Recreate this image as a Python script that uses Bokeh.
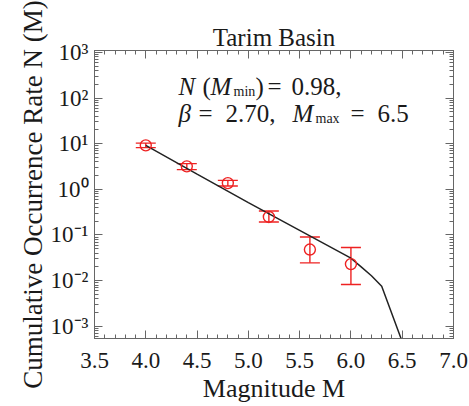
from bokeh.plotting import figure
from bokeh.models import (ColumnDataSource, Whisker, TeeHead, FixedTicker,
                          LogAxis, LinearAxis, Label)
from bokeh.embed import file_html
from bokeh.resources import INLINE

# ---- data ----
magnitude = [4.0, 4.4, 4.8, 5.2, 5.6, 6.0]
rate = [9.2, 3.19, 1.37, 0.248, 0.048, 0.023]
rate_upper = [10.3, 3.66, 1.57, 0.335, 0.090, 0.053]
rate_lower = [8.2, 2.70, 1.18, 0.192, 0.0245, 0.0082]

fit_magnitude = [4.0, 4.5, 5.0, 5.5, 6.0, 6.1, 6.2, 6.3, 6.5]
fit_rate = [9.2, 2.16, 0.51, 0.126, 0.031, 0.020, 0.0128, 0.0075, 0.00046]

x_ticks = [3.5, 4.0, 4.5, 5.0, 5.5, 6.0, 6.5, 7.0]
x_tick_labels = ["3.5", "4.0", "4.5", "5.0", "5.5", "6.0", "6.5", "7.0"]
y_ticks = [1e-3, 1e-2, 1e-1, 1e0, 1e1, 1e2, 1e3]
y_tick_labels = ["10\u207b\u00b3", "10\u207b\u00b2", "10\u207b\u00b9", "10\u2070",
                 "10\u00b9", "10\u00b2", "10\u00b3"]

title_text = "Tarim Basin"
x_label = "Magnitude M"
y_label = "Cumulative Occurrence Rate N (M)"

RED = "#ee2222"
AX = "#666666"
TXT = "#1a1a1a"
FONT = "Liberation Serif"

W, H = 469, 406
FL, FR, FT, FB = 94, 453, 50, 338

p = figure(width=W, height=H, x_range=(3.5, 7.0), y_range=(5.4e-4, 1.1e3),
           y_axis_type="log", toolbar_location=None, output_backend="svg",
           min_border_left=FL, min_border_right=W - FR,
           min_border_top=FT, min_border_bottom=H - FB)
p.xgrid.visible = False
p.ygrid.visible = False
p.outline_line_color = AX
p.background_fill_color = "white"
p.border_fill_color = "white"

p.title.text = title_text
p.title.align = "center"
p.title.text_font = FONT
p.title.text_font_size = "25px"
p.title.text_font_style = "normal"
p.title.text_color = TXT
p.title.standoff = 0

x_minor = [round(3.5 + 0.1 * i, 2) for i in range(36)]
y_minor = []
for d in range(-4, 3):
    for m in range(2, 10):
        v = m * 10.0 ** d
        if 5.4e-4 <= v <= 1.1e3:
            y_minor.append(v)

xt = FixedTicker(ticks=x_ticks, minor_ticks=x_minor)
yt = FixedTicker(ticks=y_ticks, minor_ticks=y_minor)


def style(ax, labels=True):
    ax.axis_line_color = AX
    ax.major_tick_line_color = AX
    ax.minor_tick_line_color = AX
    ax.major_tick_in = 8
    ax.major_tick_out = 0
    ax.minor_tick_in = 4
    ax.minor_tick_out = 0
    if labels:
        ax.major_label_text_font = FONT
        ax.major_label_text_font_size = "23px"
        ax.major_label_text_color = TXT
        ax.axis_label_text_font = FONT
        ax.axis_label_text_font_style = "normal"
        ax.axis_label_text_color = TXT
    else:
        ax.major_label_text_font_size = "1px"
        ax.major_label_text_color = None
        ax.major_label_standoff = 0


xa = p.xaxis[0]
xa.ticker = xt
style(xa)
xa.major_label_standoff = 14
xa.major_label_overrides = {t: s for t, s in zip(x_ticks, x_tick_labels)}
xa.axis_label = x_label
xa.axis_label_text_font_size = "26px"
xa.axis_label_standoff = 3

ya = p.yaxis[0]
ya.ticker = yt
style(ya)
ya.major_label_standoff = 6
ya.major_label_overrides = {t: s for t, s in zip(y_ticks, y_tick_labels)}
ya.axis_label = y_label
ya.axis_label_text_font_size = "27px"
ya.axis_label_standoff = 0

top = LinearAxis(ticker=xt)
style(top, labels=False)
p.add_layout(top, "above")
right = LogAxis(ticker=yt)
style(right, labels=False)
p.add_layout(right, "right")

# ---- data glyphs ----
src = ColumnDataSource(dict(m=magnitude, rate=rate, upper=rate_upper, lower=rate_lower))
p.line(fit_magnitude, fit_rate, line_color="#222222", line_width=1.5)
p.add_layout(Whisker(source=src, base="m", upper="upper", lower="lower",
                     line_color=RED, line_width=1.4,
                     upper_head=TeeHead(size=20, line_color=RED, line_width=1.4),
                     lower_head=TeeHead(size=20, line_color=RED, line_width=1.4)))
p.scatter("m", "rate", source=src, marker="circle", size=11, fill_color=None,
          line_color=RED, line_width=1.4)


# ---- annotation inside the frame (canvas pixel positions, top-down) ----
def lab(text, x, y, size, italic=False):
    p.add_layout(Label(x=x - FL, y=FB - y, x_units="screen", y_units="screen",
                       text=text, text_font=FONT, text_font_size=f"{size}px",
                       text_font_style="italic" if italic else "normal",
                       text_color=TXT, text_align="left", text_baseline="alphabetic"))


lab("N", 178, 86, 25, italic=True)
lab("(", 202, 86, 25)
lab("M", 210, 86, 25, italic=True)
lab("min", 233, 91, 14)
lab(")", 255, 86, 25)
lab("=", 267, 86, 25)
lab("0.98,", 291, 86, 25)
lab("\u03b2", 178, 113, 25, italic=True)
lab("=", 198, 113, 25)
lab("2.70,", 225, 113, 25)
lab("M", 292, 113, 25, italic=True)
lab("max", 315, 118, 14)
lab("=", 350, 113, 25)
lab("6.5", 377, 113, 25)

open("out.html", "w").write(file_html(p, INLINE))
